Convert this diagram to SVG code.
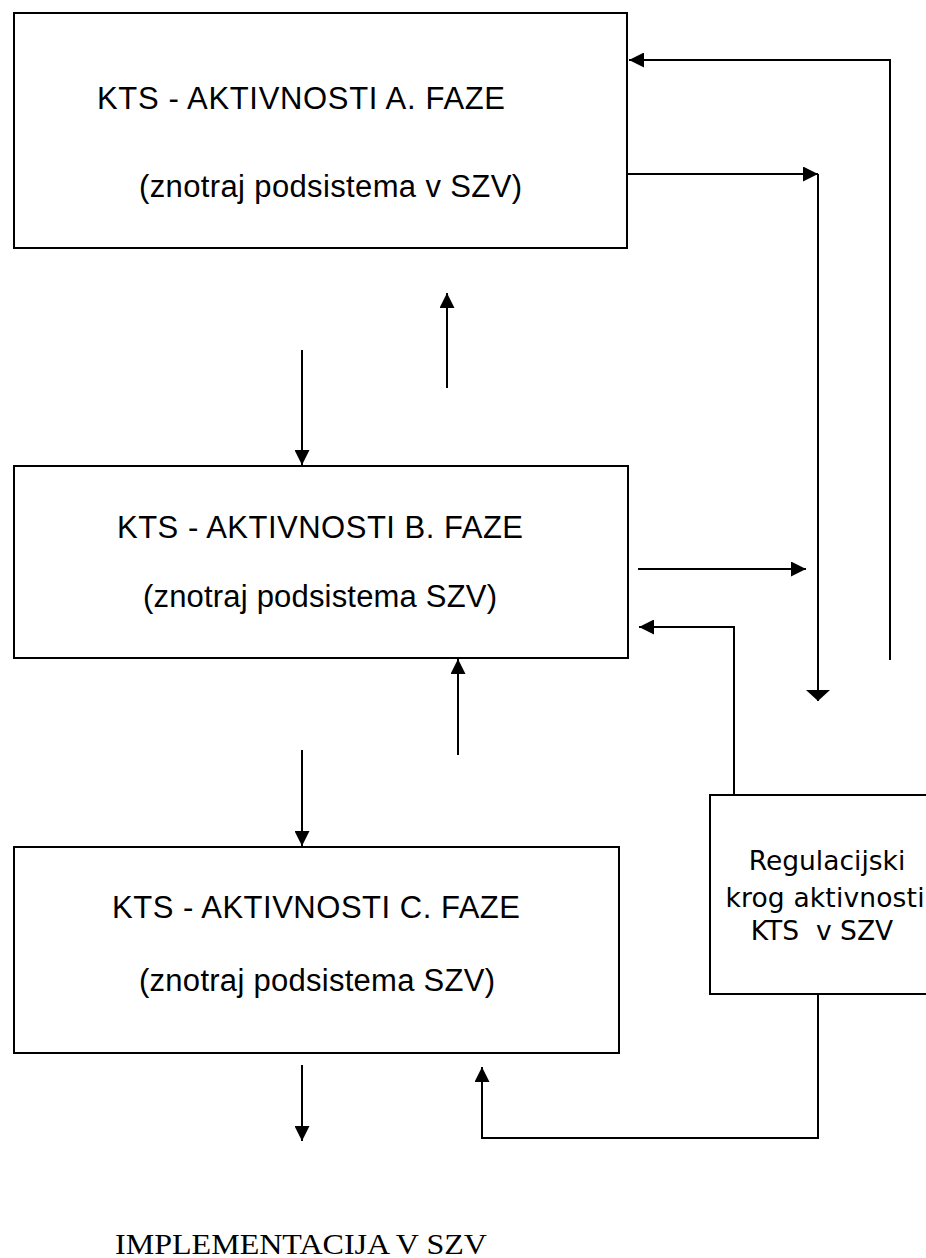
<svg xmlns="http://www.w3.org/2000/svg" width="926" height="1258" viewBox="0 0 926 1258">
<style>
.box{fill:#fff;stroke:#000;stroke-width:2}
.ln{fill:none;stroke:#000;stroke-width:2}
.t{font-family:"Liberation Sans",Arial,sans-serif;font-size:31px;fill:#000}
.r{font-family:"DejaVu Sans",Verdana,sans-serif;font-size:26.5px;fill:#000;text-anchor:middle;white-space:pre}
.s{font-family:"Liberation Serif","Times New Roman",serif;font-size:30px;fill:#000}
</style>
<defs>
<marker id="ah" markerUnits="userSpaceOnUse" markerWidth="15" markerHeight="15" refX="15" refY="7.5" orient="auto">
<path d="M0,0 L15,7.5 L0,15 z" fill="#000"/>
</marker>
<marker id="ahf" markerUnits="userSpaceOnUse" markerWidth="11" markerHeight="24" refX="11" refY="12" orient="auto">
<path d="M0,0 L11,12 L0,24 z" fill="#000"/>
</marker>
</defs>
<rect width="926" height="1258" fill="#fff"/>
<g id="nodeA">
<rect class="box" x="14" y="13" width="613" height="235"/>
<text class="t" x="97" y="109" textLength="408">KTS - AKTIVNOSTI A. FAZE</text>
<text class="t" x="139" y="197" textLength="383">(znotraj podsistema v SZV)</text>
</g>
<g id="nodeB">
<rect class="box" x="14" y="466" width="614" height="192"/>
<text class="t" x="117" y="538" textLength="406">KTS - AKTIVNOSTI B. FAZE</text>
<text class="t" x="143" y="607" textLength="354">(znotraj podsistema SZV)</text>
</g>
<g id="nodeC">
<rect class="box" x="14" y="847" width="605" height="206"/>
<text class="t" x="112" y="918" textLength="408">KTS - AKTIVNOSTI C. FAZE</text>
<text class="t" x="139" y="991" textLength="356">(znotraj podsistema SZV)</text>
</g>
<g id="nodeReg">
<rect class="box" x="710" y="795" width="232" height="199"/>
<text class="r" x="827" y="870">Regulacijski</text>
<text class="r" x="825" y="907" textLength="199">krog aktivnosti</text>
<text class="r" x="822" y="940">KTS  v SZV</text>
</g>
<g id="nodeImpl">
<text class="s" x="115" y="1254" textLength="372" lengthAdjust="spacingAndGlyphs">IMPLEMENTACIJA V SZV</text>
</g>
<g id="connectors">
<line class="ln" x1="447" y1="388" x2="447" y2="293" marker-end="url(#ah)"/>
<line class="ln" x1="302" y1="350" x2="302" y2="465" marker-end="url(#ah)"/>
<line class="ln" x1="458" y1="755" x2="458" y2="659" marker-end="url(#ah)"/>
<line class="ln" x1="302" y1="750" x2="302" y2="846" marker-end="url(#ah)"/>
<line class="ln" x1="302" y1="1065" x2="302" y2="1141" marker-end="url(#ah)"/>
<polyline class="ln" points="890,660 890,60 629,60" marker-end="url(#ah)"/>
<line class="ln" x1="627" y1="174" x2="818" y2="174" marker-end="url(#ah)"/>
<line class="ln" x1="818" y1="174" x2="818" y2="701" marker-end="url(#ahf)"/>
<line class="ln" x1="638" y1="569" x2="806" y2="569" marker-end="url(#ah)"/>
<polyline class="ln" points="734,795 734,627 639,627" marker-end="url(#ah)"/>
<polyline class="ln" points="818,994 818,1138 482,1138 482,1067" marker-end="url(#ah)"/>
</g>
</svg>
